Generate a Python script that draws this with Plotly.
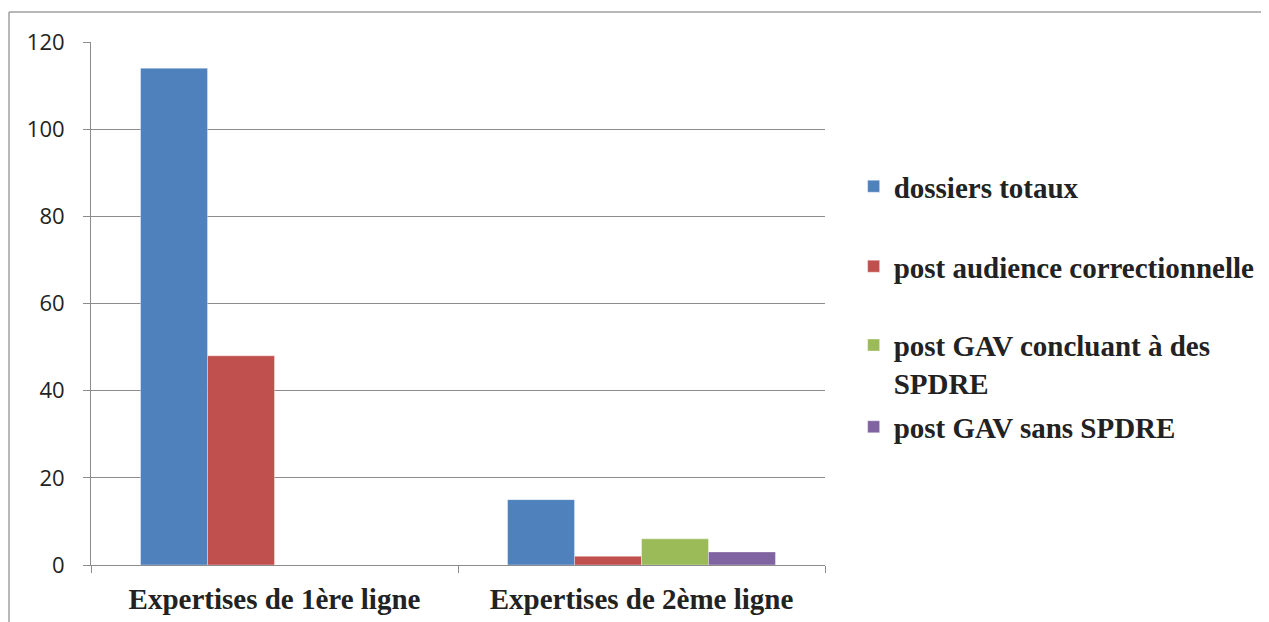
import plotly.graph_objects as go

categories = ["Expertises de 1ère ligne", "Expertises de 2ème ligne"]
series_names = [
    "dossiers totaux",
    "post audience correctionnelle",
    "post GAV concluant à des<br>SPDRE",
    "post GAV sans SPDRE",
]
dossiers_totaux = [114, 15]
post_audience = [48, 2]
post_gav_spdre = [0, 6]
post_gav_sans = [0, 3]
y_ticks = [0, 20, 40, 60, 80, 100, 120]

colors = ["#4F81BD", "#C0504D", "#9BBB59", "#8064A2"]
all_values = [dossiers_totaux, post_audience, post_gav_spdre, post_gav_sans]
legend_ids = ["legend", "legend2", "legend3", "legend4"]
legend_y = [0.724, 0.571, 0.384, 0.264]

serif = "Liberation Serif"

fig = go.Figure()
for name, vals, color, lg in zip(series_names, all_values, colors, legend_ids):
    fig.add_trace(go.Bar(
        x=categories, y=vals, name=name, legend=lg,
        marker=dict(color=color, line=dict(color="rgba(255,255,255,0.6)", width=0.6)),
    ))

legend_style = dict(
    x=1.039, xanchor="left", yanchor="middle", valign="top",
    font=dict(family=serif, size=29, color="#222222", weight="bold"),
    bgcolor="rgba(0,0,0,0)", itemclick=False,
)
layout_legends = {}
for lg, ly in zip(legend_ids, legend_y):
    layout_legends[lg] = dict(legend_style, y=ly)

# page body adds an 8px offset, margins compensate for it
fig.update_layout(
    width=1269, height=622,
    margin=dict(l=83, r=452, t=34, b=65),
    paper_bgcolor="white", plot_bgcolor="white",
    barmode="group", bargap=0.27, bargroupgap=0,
    showlegend=True,
    **layout_legends,
)
fig.update_yaxes(
    range=[0, 120], tickvals=y_ticks,
    showgrid=True, gridcolor="#8c8c8c", gridwidth=1,
    showline=True, linecolor="#8c8c8c", linewidth=1,
    ticks="outside", ticklen=7, tickcolor="#8c8c8c",
    tickfont=dict(family="Open Sans", size=22, color="#222222"),
    ticklabelstandoff=14, zeroline=False,
)
fig.update_xaxes(
    showline=True, linecolor="#8c8c8c", linewidth=1,
    ticks="outside", ticklen=7, tickcolor="#8c8c8c", tickson="boundaries",
    tickfont=dict(family=serif, size=29, color="#222222", weight="bold"),
    ticklabelstandoff=8,
)
# outer frame (top and left edges visible)
fig.add_shape(type="line", xref="paper", yref="paper", x0=-0.1117, x1=1.62, y0=1.0574, y1=1.0574,
              line=dict(color="#a0a0a0", width=1.5))
fig.add_shape(type="line", xref="paper", yref="paper", x0=-0.1117, x1=-0.1117, y0=-0.13, y1=1.0574,
              line=dict(color="#a0a0a0", width=1.5))

fig.write_html("out.html")
